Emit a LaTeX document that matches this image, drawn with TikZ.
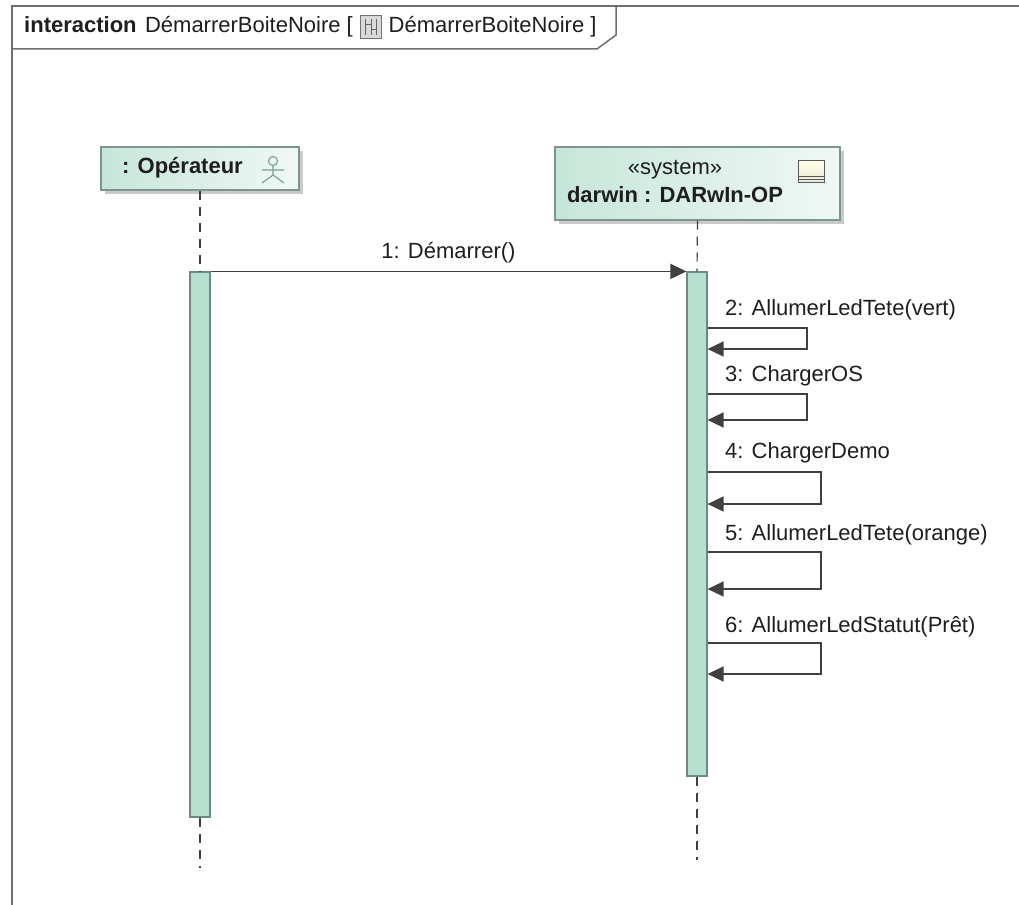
\documentclass[tikz,border=0pt]{standalone}
\usepackage{fontspec}
\setmainfont{Liberation Sans}
\usetikzlibrary{positioning,arrows.meta,shadows,calc}

\definecolor{linegray}{RGB}{64,64,64}
\definecolor{framegray}{RGB}{110,110,110}
\definecolor{textdark}{RGB}{30,30,30}
\definecolor{headborder}{RGB}{125,150,140}
\definecolor{headleft}{RGB}{198,230,217}
\definecolor{headright}{RGB}{240,248,245}
\definecolor{actfill}{RGB}{184,224,208}
\definecolor{actborder}{RGB}{105,140,128}
\definecolor{actorgreen}{RGB}{120,160,140}

\begin{document}
\begin{tikzpicture}[x=1pt, y=-1pt,
    lifehead/.style={draw=headborder, line width=1.2pt, left color=headleft, right color=headright, inner sep=0pt,
        drop shadow={shadow xshift=4pt, shadow yshift=-4pt, fill=black!35, opacity=0.6}},
    headtext/.style={font=\fontsize{22}{28}\selectfont\bfseries, text=textdark, inner sep=0pt},
    titletext/.style={font=\fontsize{22}{26}\selectfont, text=textdark, inner sep=0pt},
    actbar/.style={draw=actborder, fill=actfill, line width=1.2pt, minimum width=20pt, inner sep=0pt},
    lifeline/.style={draw=linegray, line width=1.2pt, dash pattern=on 9pt off 7pt},
    msg/.style={draw=linegray, line width=1.6pt, -{Triangle[length=16pt,width=15pt]}},
    msglabel/.style={font=\fontsize{22}{26}\selectfont, text=textdark, inner sep=0pt}
]
    \useasboundingbox (0,0) rectangle (1019,904);
    \clip (0,0) rectangle (1019,904);

    % frame and its tab
    \draw[framegray, line width=2pt] (12,1000) -- (12,6) -- (1100,6);
    \draw[framegray, line width=1.5pt] (12,49) -- (597,49) -- (616,35) -- (616,6);
    \node[titletext, anchor=base west] (titlekind) at (24,33) {\bfseries interaction};
    \node[titletext, right=8pt of titlekind.base east, anchor=base west] (titlename) {DémarrerBoiteNoire [};
    \node[draw=black!55, fill=black!15, minimum width=21pt, minimum height=23pt, inner sep=0pt, right=7pt of titlename] (titleicon) {};
    \draw[black!60, line width=0.8pt] ([xshift=5pt,yshift=-4pt]titleicon.north west) -- ([xshift=5pt,yshift=4pt]titleicon.south west)
        ([xshift=11pt,yshift=-4pt]titleicon.north west) -- ([xshift=11pt,yshift=4pt]titleicon.south west)
        ([xshift=16pt,yshift=-4pt]titleicon.north west) -- ([xshift=16pt,yshift=4pt]titleicon.south west)
        ([xshift=5pt,yshift=-9pt]titleicon.north west) -- ([xshift=11pt,yshift=-9pt]titleicon.north west)
        ([xshift=11pt,yshift=-14pt]titleicon.north west) -- ([xshift=16pt,yshift=-14pt]titleicon.north west);
    \node[titletext, right=7pt of titleicon] (titleref) {DémarrerBoiteNoire ]};

    % lifeline heads
    \node[lifehead, minimum width=198pt, minimum height=43pt] (operateur) at (200,168.5) {};
    \node[headtext, anchor=west] (operateurname) at (122,168) {: Opérateur};
    \draw[actorgreen, line width=1.1pt] (273,161) circle (4.5pt)
        (273,165.5) -- (273,175) (262,170) -- (284,170) (262,183) -- (273,175) -- (284,183);

    \node[lifehead, minimum width=285pt, minimum height=73pt] (darwin) at (697.5,183.5) {};
    \node[headtext, align=center] (darwinname) at (675,181) {{\mdseries «system»}\\darwin : DARwIn-OP};
    \node[draw=black!65, line width=1pt, top color=yellow!10, bottom color=yellow!40!black!15, minimum width=26pt, minimum height=22pt, inner sep=0pt] (darwinicon) at (811,172) {};
    \draw[black!65, line width=1pt] ([yshift=7pt]darwinicon.south west) -- ([yshift=7pt]darwinicon.south east)
        ([yshift=3.5pt]darwinicon.south west) -- ([yshift=3.5pt]darwinicon.south east);

    % activations
    \node[actbar, minimum height=545pt] (opact) at (200,544.5) {};
    \node[actbar, minimum height=504pt] (sysact) at (697,524) {};
    \coordinate (opend) at (200,868);
    \coordinate (sysend) at (697,860);

    \draw[lifeline] (operateur.south) -- (opact.north);
    \draw[lifeline] (opact.south) -- (opend);
    \draw[lifeline] (darwin.south) -- (sysact.north);
    \draw[lifeline] (sysact.south) -- (sysend);

    % messages
    \draw[msg] (opact.north east) -- node[msglabel, above=8pt] (m1) {1: Démarrer()} (sysact.north west);

    \node[msglabel, anchor=west] (m2) at (725,310) {2: AllumerLedTete(vert)};
    \draw[msg] (sysact.east |- 0,328) -- (807,328) -- (807,349) -- (sysact.east |- 0,349);

    \node[msglabel, anchor=west] (m3) at (725,376) {3: ChargerOS};
    \draw[msg] (sysact.east |- 0,394) -- (807,394) -- (807,420) -- (sysact.east |- 0,420);

    \node[msglabel, anchor=west] (m4) at (725,453) {4: ChargerDemo};
    \draw[msg] (sysact.east |- 0,472) -- (821,472) -- (821,504) -- (sysact.east |- 0,504);

    \node[msglabel, anchor=west] (m5) at (725,535) {5: AllumerLedTete(orange)};
    \draw[msg] (sysact.east |- 0,552) -- (821,552) -- (821,589) -- (sysact.east |- 0,589);

    \node[msglabel, anchor=west] (m6) at (725,627) {6: AllumerLedStatut(Prêt)};
    \draw[msg] (sysact.east |- 0,643) -- (821,643) -- (821,674) -- (sysact.east |- 0,674);
\end{tikzpicture}
\end{document}
